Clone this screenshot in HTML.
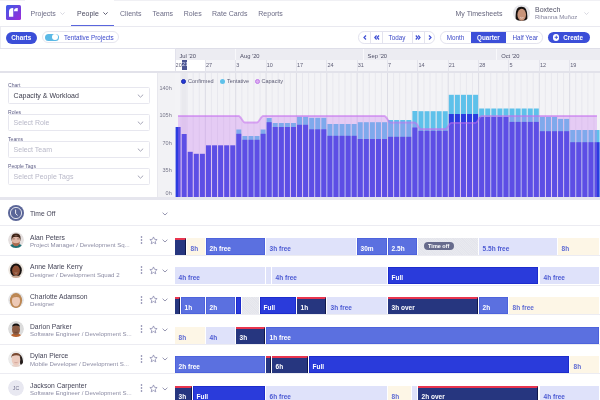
<!DOCTYPE html><html><head><meta charset="utf-8"><style>
*{margin:0;padding:0;box-sizing:border-box}
html,body{width:600px;height:400px;overflow:hidden;background:#fff;font-family:"Liberation Sans",sans-serif;position:relative}
.a{position:absolute;white-space:nowrap}
.nav{position:absolute;left:0;top:0;width:600px;height:27px;border-bottom:1px solid #e9e9f0;background:#fff}
.nv{position:absolute;top:9.5px;font-size:7px;color:#6e6e8a;white-space:nowrap}
.tb{position:absolute;left:0;top:27px;width:600px;height:21px;background:#fff}
.hdr{position:absolute;left:175px;top:48px;width:425px;height:25px;background:#f3f3f7;border-top:1px solid #dedee8;}
.mrow{position:absolute;left:175px;top:49px;width:425px;height:11px;background:#ececf2}
.wdiv{position:absolute;top:60px;width:1px;height:10.5px;background:#e4e4ec}
.mdiv{position:absolute;top:49px;width:1px;height:11px;background:#f8f8fb}
.wlab{position:absolute;top:61.8px;font-size:5.5px;color:#5e5e76}
.mlab{position:absolute;top:52.6px;font-size:5.8px;color:#4c4c64}
.hbot{position:absolute;left:0;top:70.5px;width:600px;height:3px;background:#e2e2ea}
.left{position:absolute;left:0;top:73px;width:157px;height:124px;background:#fff}
.axis{position:absolute;left:157px;top:73px;width:18px;height:124px;background:#f2f2f5;border-left:1px solid #e8e8ee}
.ylab{position:absolute;font-size:5.5px;color:#77778a;right:428.3px}
.flab{position:absolute;left:8px;font-size:5.1px;color:#5d5d86;z-index:2}
.dd{position:absolute;left:8.3px;width:141.5px;height:17px;border:1px solid #e7e7ef;border-radius:1.5px;background:#fff}
.dd span{position:absolute;left:4.3px;top:4px;font-size:7px;color:#b8b8c8}
.dd svg{position:absolute;left:127.6px;top:6px}
.cbot{position:absolute;left:0;top:197px;width:600px;height:3px;background:#e6e6ee}
.sep{position:absolute;left:0;width:600px;height:1px;background:#ececf2}
.av{position:absolute;left:8px;width:16px;height:16px}
.av svg{display:block}
.pname{position:absolute;left:30px;font-size:6.75px;color:#454558;white-space:nowrap}
.psub{position:absolute;left:30px;font-size:6.08px;color:#8c8ca4;white-space:nowrap}
.ic{position:absolute}
.ic svg{display:block}
.blk{position:absolute;height:17.2px;overflow:hidden}
.blk span{position:absolute;left:3.6px;top:7.1px;font-size:6.5px;font-weight:bold;white-space:nowrap}
.navy{background:#26367f;border-top:2px solid #e8354f;border-right:1px solid #10184a}
.navy span{color:#fff;top:5.1px}
.med{background:#5b70e0;box-shadow:inset 0 0 0 0.8px rgba(60,80,215,0.55)}
.med span{color:#fff}
.bright{background:#2a3bdb;box-shadow:inset 0 0 0 0.8px #1a29c9}
.bright span{color:#fff}
.lav{background:#dfe2fa}
.lav span{color:#4d5bd3}
.cream{background:#fdf6e6}
.cream span{color:#5f6cd4}
.off,.hatch{background:#e4e5ec;background-image:repeating-linear-gradient(45deg,rgba(255,255,255,0.18) 0 0.7px,transparent 0.7px 1.6px)}
.pill{position:absolute;left:5.5px;top:4.4px;height:8px;width:30.5px;border-radius:4px;background:#676b8c;color:#fff;font-style:normal;font-weight:bold;font-size:5.5px;line-height:8px;text-align:center}
.btn{position:absolute;border-radius:7px}
</style></head><body><div id="root" style="position:absolute;left:0;top:0;width:600px;height:400px;overflow:hidden;will-change:transform;background:#fff">
<div class="nav"></div>
<div class="a" style="left:0;top:0;width:25px;height:1px;background:#f0f0f4"></div>
<div class="a" style="left:114px;top:0;width:486px;height:1px;background:#f0f0f4"></div>
<svg class="a" style="left:6px;top:5px" width="15" height="15" viewBox="0 0 15 15"><defs><linearGradient id="lg" x1="0" y1="0" x2="1" y2="1"><stop offset="0" stop-color="#3a5ce8"/><stop offset="1" stop-color="#9e2ad8"/></linearGradient></defs><rect width="15" height="15" rx="1.5" fill="url(#lg)"/><path d="M3 11.75 L3 6.6 Q3 3 6.6 3 L7.25 3 L7.25 11.75 Z M8 6.25 Q8 3 11.2 3 L11.75 3 L11.75 6.25 Z" fill="#fff"/></svg>
<div class="nv" style="left:30.5px;color:#6c6c86">Projects</div>
<div class="nv" style="left:77px;color:#4a4a60">People</div>
<div class="nv" style="left:120px;color:#6c6c86">Clients</div>
<div class="nv" style="left:152.5px;color:#6c6c86">Teams</div>
<div class="nv" style="left:183.8px;color:#6c6c86">Roles</div>
<div class="nv" style="left:212px;color:#6c6c86">Rate Cards</div>
<div class="nv" style="left:258.3px;color:#6c6c86">Reports</div>
<svg class="a" style="left:60px;top:12px" width="5" height="3" viewBox="0 0 5 3"><path d="M0.4 0.4 L2.5 2.5 L4.6 0.4" fill="none" stroke="#c8c8d4" stroke-width="0.7"/></svg>
<svg class="a" style="left:103px;top:11.8px" width="5" height="3" viewBox="0 0 5 3"><path d="M0.4 0.4 L2.5 2.5 L4.6 0.4" fill="none" stroke="#55556c" stroke-width="0.95"/></svg>
<div class="a" style="left:71px;top:24.5px;width:43px;height:1.3px;background:#5a66dd"></div>
<div class="nv" style="left:455.5px;color:#66667e">My Timesheets</div>
<div class="a" style="left:512.8px;top:4.6px;width:16.8px;height:16.8px;border-radius:50%;background:#e6e6ea;overflow:hidden"><svg width="16.8" height="16.8" viewBox="0 0 16 16"><path d="M2.6 15 Q2 4 5 2.4 Q8 0.9 11 2.4 Q14 4 13.6 15Z" fill="#17110f"/><ellipse cx="8.3" cy="9.2" rx="4.1" ry="5.7" fill="#c9947a"/><path d="M6.6 12 Q8.3 13 10 12" stroke="#f0e0dc" stroke-width="0.7" fill="none"/><path d="M4.5 15.5 Q8.3 13.8 12 15.5 L12 16 L4.5 16Z" fill="#b88a74"/></svg></div>
<div class="a" style="left:535px;top:6.2px;font-size:7px;color:#55556a">Boxtech</div>
<div class="a" style="left:535px;top:14.0px;font-size:6.05px;color:#85859e">Rihanna Muñoz</div>
<svg class="a" style="left:583.5px;top:12px" width="5" height="3" viewBox="0 0 5 3"><path d="M0.4 0.4 L2.5 2.5 L4.6 0.4" fill="none" stroke="#c8c8d4" stroke-width="0.7"/></svg>
<div class="a" style="left:0;top:27px;width:1px;height:21px;background:#ececf2"></div>
<div class="a" style="left:5.5px;top:31.5px;width:31.5px;height:12px;border-radius:6px;background:#3b4ed8;color:#fff;font-size:6.3px;font-weight:bold;text-align:center;line-height:12px">Charts</div>
<div class="a" style="left:41.7px;top:31px;width:77.6px;height:12.3px;border-radius:6.2px;border:1px solid #e6e6ef;background:#fff"></div>
<div class="a" style="left:45px;top:33.7px;width:13.8px;height:7.4px;border-radius:3.7px;background:#5bb9e6"></div>
<div class="a" style="left:52.2px;top:34.4px;width:6px;height:6px;border-radius:3px;background:#fff"></div>
<div class="a" style="left:64px;top:34px;font-size:6.3px;color:#3a48cc">Tentative Projects</div>
<div class="a" style="left:358.3px;top:31.3px;width:76.5px;height:12.4px;border-radius:6.2px;border:1px solid #e3e3ee;background:#fff"></div>
<div class="a" style="left:370.4px;top:31.3px;width:1px;height:12.4px;background:#e3e3ee"></div>
<div class="a" style="left:381.7px;top:31.3px;width:1px;height:12.4px;background:#e3e3ee"></div>
<div class="a" style="left:411.5px;top:31.3px;width:1px;height:12.4px;background:#e3e3ee"></div>
<div class="a" style="left:423.5px;top:31.3px;width:1px;height:12.4px;background:#e3e3ee"></div>
<div class="a" style="left:388.5px;top:34.1px;font-size:6.3px;color:#3d4ac8">Today</div>
<svg class="a" style="left:362.5px;top:35px" width="4" height="5" viewBox="0 0 4 5"><path d="M3 0.5 L1 2.5 L3 4.5" fill="none" stroke="#3f4fd4" stroke-width="1.2"/></svg>
<svg class="a" style="left:373.5px;top:35px" width="6" height="5" viewBox="0 0 6 5"><path d="M2.6 0.5 L0.8 2.5 L2.6 4.5 M5 0.5 L3.2 2.5 L5 4.5" fill="none" stroke="#3f4fd4" stroke-width="1.2"/></svg>
<svg class="a" style="left:414.5px;top:35px" width="6" height="5" viewBox="0 0 6 5"><path d="M0.8 0.5 L2.6 2.5 L0.8 4.5 M3.2 0.5 L5 2.5 L3.2 4.5" fill="none" stroke="#3f4fd4" stroke-width="1.2"/></svg>
<svg class="a" style="left:427.5px;top:35px" width="4" height="5" viewBox="0 0 4 5"><path d="M1 0.5 L3 2.5 L1 4.5" fill="none" stroke="#3f4fd4" stroke-width="1.2"/></svg>
<div class="a" style="left:440px;top:31.3px;width:103.3px;height:12.4px;border-radius:6.2px;border:1px solid #e3e3ee;background:#fff;overflow:hidden"><div style="position:absolute;left:30.3px;top:0;width:34.5px;height:100%;background:#3b4ed8"></div></div>
<div class="a" style="left:446.7px;top:34.1px;font-size:6.3px;color:#3d4ac8">Month</div>
<div class="a" style="left:477px;top:34.1px;font-size:6.3px;color:#fff;font-weight:bold">Quarter</div>
<div class="a" style="left:512.5px;top:34.1px;font-size:6.3px;color:#3d4ac8">Half Year</div>
<div class="a" style="left:548.3px;top:31.7px;width:41.7px;height:11.6px;border-radius:5.8px;background:#3b4ed8"></div>
<div class="a" style="left:552.5px;top:34.2px;width:6.6px;height:6.6px;border-radius:50%;background:#fff"></div>
<svg class="a" style="left:552.5px;top:34.2px" width="6.6" height="6.6" viewBox="0 0 6.6 6.6"><path d="M3.3 1.6 V5 M1.6 3.3 H5" stroke="#3b4ed8" stroke-width="0.9"/></svg>
<div class="a" style="left:563.3px;top:34.1px;font-size:6.3px;color:#fff;font-weight:bold">Create</div>
<div class="a" style="left:0;top:48px;width:600px;height:1px;background:#e2e2ec"></div>
<div class="hdr"></div><div class="mrow"></div>
<div class="a" style="left:175px;top:60px;width:30.4px;height:10.5px;background:#fff"></div>
<div class="wlab" style="left:175.60px">20</div>
<div class="wdiv" style="left:204.86px"></div>
<div class="wlab" style="left:205.96px">27</div>
<div class="wdiv" style="left:235.21px"></div>
<div class="wlab" style="left:236.31px">3</div>
<div class="wdiv" style="left:265.57px"></div>
<div class="wlab" style="left:266.67px">10</div>
<div class="wdiv" style="left:295.93px"></div>
<div class="wlab" style="left:297.03px">17</div>
<div class="wdiv" style="left:326.29px"></div>
<div class="wlab" style="left:327.39px">24</div>
<div class="wdiv" style="left:356.64px"></div>
<div class="wlab" style="left:357.74px">31</div>
<div class="wdiv" style="left:387.00px"></div>
<div class="wlab" style="left:388.10px">7</div>
<div class="wdiv" style="left:417.36px"></div>
<div class="wlab" style="left:418.46px">14</div>
<div class="wdiv" style="left:447.71px"></div>
<div class="wlab" style="left:448.81px">21</div>
<div class="wdiv" style="left:478.07px"></div>
<div class="wlab" style="left:479.17px">28</div>
<div class="wdiv" style="left:508.43px"></div>
<div class="wlab" style="left:509.53px">5</div>
<div class="wdiv" style="left:538.79px"></div>
<div class="wlab" style="left:539.89px">12</div>
<div class="wdiv" style="left:569.14px"></div>
<div class="wlab" style="left:570.24px">19</div>
<div class="mlab" style="left:179.40px">Jul '20</div>
<div class="mdiv" style="left:235.21px"></div>
<div class="mlab" style="left:240.11px">Aug '20</div>
<div class="mdiv" style="left:362.71px"></div>
<div class="mlab" style="left:367.61px">Sep '20</div>
<div class="mdiv" style="left:496.29px"></div>
<div class="mlab" style="left:501.19px">Oct '20</div>
<div class="a" style="left:181.8px;top:60px;width:5.3px;height:10.4px;background:#4b5592;overflow:hidden"><span style="position:absolute;left:0.3px;top:1.4px;font-size:5.5px;color:#dfe2f4">21</span></div>
<div class="a" style="left:174.5px;top:48px;width:1px;height:23px;background:#e2e2ec"></div>
<div class="hbot"></div>
<div class="a" style="left:175px;top:73px;width:425px;height:124px;background:#f3f3f6"></div>
<svg class="chart" width="600" height="200" viewBox="0 0 600 200" style="position:absolute;left:0;top:0"><rect x="180.57" y="73" width="1" height="124" fill="#e8e8ee"/><rect x="186.64" y="73" width="1" height="124" fill="#e8e8ee"/><rect x="192.71" y="73" width="1" height="124" fill="#e8e8ee"/><rect x="198.79" y="73" width="1" height="124" fill="#e8e8ee"/><rect x="204.86" y="73" width="1" height="124" fill="#dcdce5"/><rect x="210.93" y="73" width="1" height="124" fill="#e8e8ee"/><rect x="217.00" y="73" width="1" height="124" fill="#e8e8ee"/><rect x="223.07" y="73" width="1" height="124" fill="#e8e8ee"/><rect x="229.14" y="73" width="1" height="124" fill="#e8e8ee"/><rect x="235.21" y="73" width="1" height="124" fill="#dcdce5"/><rect x="241.29" y="73" width="1" height="124" fill="#e8e8ee"/><rect x="247.36" y="73" width="1" height="124" fill="#e8e8ee"/><rect x="253.43" y="73" width="1" height="124" fill="#e8e8ee"/><rect x="259.50" y="73" width="1" height="124" fill="#e8e8ee"/><rect x="265.57" y="73" width="1" height="124" fill="#dcdce5"/><rect x="271.64" y="73" width="1" height="124" fill="#e8e8ee"/><rect x="277.71" y="73" width="1" height="124" fill="#e8e8ee"/><rect x="283.79" y="73" width="1" height="124" fill="#e8e8ee"/><rect x="289.86" y="73" width="1" height="124" fill="#e8e8ee"/><rect x="295.93" y="73" width="1" height="124" fill="#dcdce5"/><rect x="302.00" y="73" width="1" height="124" fill="#e8e8ee"/><rect x="308.07" y="73" width="1" height="124" fill="#e8e8ee"/><rect x="314.14" y="73" width="1" height="124" fill="#e8e8ee"/><rect x="320.21" y="73" width="1" height="124" fill="#e8e8ee"/><rect x="326.29" y="73" width="1" height="124" fill="#dcdce5"/><rect x="332.36" y="73" width="1" height="124" fill="#e8e8ee"/><rect x="338.43" y="73" width="1" height="124" fill="#e8e8ee"/><rect x="344.50" y="73" width="1" height="124" fill="#e8e8ee"/><rect x="350.57" y="73" width="1" height="124" fill="#e8e8ee"/><rect x="356.64" y="73" width="1" height="124" fill="#dcdce5"/><rect x="362.71" y="73" width="1" height="124" fill="#e8e8ee"/><rect x="368.79" y="73" width="1" height="124" fill="#e8e8ee"/><rect x="374.86" y="73" width="1" height="124" fill="#e8e8ee"/><rect x="380.93" y="73" width="1" height="124" fill="#e8e8ee"/><rect x="387.00" y="73" width="1" height="124" fill="#dcdce5"/><rect x="393.07" y="73" width="1" height="124" fill="#e8e8ee"/><rect x="399.14" y="73" width="1" height="124" fill="#e8e8ee"/><rect x="405.21" y="73" width="1" height="124" fill="#e8e8ee"/><rect x="411.29" y="73" width="1" height="124" fill="#e8e8ee"/><rect x="417.36" y="73" width="1" height="124" fill="#dcdce5"/><rect x="423.43" y="73" width="1" height="124" fill="#e8e8ee"/><rect x="429.50" y="73" width="1" height="124" fill="#e8e8ee"/><rect x="435.57" y="73" width="1" height="124" fill="#e8e8ee"/><rect x="441.64" y="73" width="1" height="124" fill="#e8e8ee"/><rect x="447.71" y="73" width="1" height="124" fill="#dcdce5"/><rect x="453.79" y="73" width="1" height="124" fill="#e8e8ee"/><rect x="459.86" y="73" width="1" height="124" fill="#e8e8ee"/><rect x="465.93" y="73" width="1" height="124" fill="#e8e8ee"/><rect x="472.00" y="73" width="1" height="124" fill="#e8e8ee"/><rect x="478.07" y="73" width="1" height="124" fill="#dcdce5"/><rect x="484.14" y="73" width="1" height="124" fill="#e8e8ee"/><rect x="490.21" y="73" width="1" height="124" fill="#e8e8ee"/><rect x="496.29" y="73" width="1" height="124" fill="#e8e8ee"/><rect x="502.36" y="73" width="1" height="124" fill="#e8e8ee"/><rect x="508.43" y="73" width="1" height="124" fill="#dcdce5"/><rect x="514.50" y="73" width="1" height="124" fill="#e8e8ee"/><rect x="520.57" y="73" width="1" height="124" fill="#e8e8ee"/><rect x="526.64" y="73" width="1" height="124" fill="#e8e8ee"/><rect x="532.71" y="73" width="1" height="124" fill="#e8e8ee"/><rect x="538.79" y="73" width="1" height="124" fill="#dcdce5"/><rect x="544.86" y="73" width="1" height="124" fill="#e8e8ee"/><rect x="550.93" y="73" width="1" height="124" fill="#e8e8ee"/><rect x="557.00" y="73" width="1" height="124" fill="#e8e8ee"/><rect x="563.07" y="73" width="1" height="124" fill="#e8e8ee"/><rect x="569.14" y="73" width="1" height="124" fill="#dcdce5"/><rect x="575.21" y="73" width="1" height="124" fill="#e8e8ee"/><rect x="581.29" y="73" width="1" height="124" fill="#e8e8ee"/><rect x="587.36" y="73" width="1" height="124" fill="#e8e8ee"/><rect x="593.43" y="73" width="1" height="124" fill="#e8e8ee"/><rect x="181.57" y="73" width="5.07" height="124" fill="#e9e9ee"/><rect x="175.60" y="127.00" width="5.0" height="70.00" fill="#2b3ce0"/><rect x="181.67" y="134.00" width="5.0" height="63.00" fill="#2b3ce0"/><rect x="187.74" y="151.80" width="5.0" height="45.20" fill="#2b3ce0"/><rect x="193.81" y="153.80" width="5.0" height="43.20" fill="#2b3ce0"/><rect x="199.89" y="153.80" width="5.0" height="43.20" fill="#2b3ce0"/><rect x="205.96" y="145.30" width="5.0" height="51.70" fill="#2b3ce0"/><rect x="212.03" y="145.30" width="5.0" height="51.70" fill="#2b3ce0"/><rect x="218.10" y="145.30" width="5.0" height="51.70" fill="#2b3ce0"/><rect x="224.17" y="145.30" width="5.0" height="51.70" fill="#2b3ce0"/><rect x="230.24" y="145.30" width="5.0" height="51.70" fill="#2b3ce0"/><rect x="236.31" y="129.50" width="5.0" height="67.50" fill="#5ec1ea"/><rect x="236.31" y="133.80" width="5.0" height="63.20" fill="#2b3ce0"/><rect x="242.39" y="136.00" width="5.0" height="61.00" fill="#5ec1ea"/><rect x="242.39" y="139.80" width="5.0" height="57.20" fill="#2b3ce0"/><rect x="248.46" y="136.00" width="5.0" height="61.00" fill="#5ec1ea"/><rect x="248.46" y="139.80" width="5.0" height="57.20" fill="#2b3ce0"/><rect x="254.53" y="136.00" width="5.0" height="61.00" fill="#5ec1ea"/><rect x="254.53" y="139.80" width="5.0" height="57.20" fill="#2b3ce0"/><rect x="260.60" y="129.50" width="5.0" height="67.50" fill="#5ec1ea"/><rect x="260.60" y="133.80" width="5.0" height="63.20" fill="#2b3ce0"/><rect x="266.67" y="118.00" width="5.0" height="79.00" fill="#5ec1ea"/><rect x="266.67" y="122.20" width="5.0" height="74.80" fill="#2b3ce0"/><rect x="272.74" y="123.00" width="5.0" height="74.00" fill="#5ec1ea"/><rect x="272.74" y="127.00" width="5.0" height="70.00" fill="#2b3ce0"/><rect x="278.81" y="123.00" width="5.0" height="74.00" fill="#5ec1ea"/><rect x="278.81" y="127.00" width="5.0" height="70.00" fill="#2b3ce0"/><rect x="284.89" y="123.00" width="5.0" height="74.00" fill="#5ec1ea"/><rect x="284.89" y="127.00" width="5.0" height="70.00" fill="#2b3ce0"/><rect x="290.96" y="123.00" width="5.0" height="74.00" fill="#5ec1ea"/><rect x="290.96" y="127.00" width="5.0" height="70.00" fill="#2b3ce0"/><rect x="297.03" y="116.80" width="5.0" height="80.20" fill="#5ec1ea"/><rect x="297.03" y="124.80" width="5.0" height="72.20" fill="#2b3ce0"/><rect x="303.10" y="116.80" width="5.0" height="80.20" fill="#5ec1ea"/><rect x="303.10" y="124.80" width="5.0" height="72.20" fill="#2b3ce0"/><rect x="309.17" y="117.80" width="5.0" height="79.20" fill="#5ec1ea"/><rect x="309.17" y="129.30" width="5.0" height="67.70" fill="#2b3ce0"/><rect x="315.24" y="117.80" width="5.0" height="79.20" fill="#5ec1ea"/><rect x="315.24" y="129.30" width="5.0" height="67.70" fill="#2b3ce0"/><rect x="321.31" y="117.80" width="5.0" height="79.20" fill="#5ec1ea"/><rect x="321.31" y="129.30" width="5.0" height="67.70" fill="#2b3ce0"/><rect x="327.39" y="124.00" width="5.0" height="73.00" fill="#5ec1ea"/><rect x="327.39" y="135.80" width="5.0" height="61.20" fill="#2b3ce0"/><rect x="333.46" y="124.00" width="5.0" height="73.00" fill="#5ec1ea"/><rect x="333.46" y="135.80" width="5.0" height="61.20" fill="#2b3ce0"/><rect x="339.53" y="124.00" width="5.0" height="73.00" fill="#5ec1ea"/><rect x="339.53" y="135.80" width="5.0" height="61.20" fill="#2b3ce0"/><rect x="345.60" y="124.00" width="5.0" height="73.00" fill="#5ec1ea"/><rect x="345.60" y="135.80" width="5.0" height="61.20" fill="#2b3ce0"/><rect x="351.67" y="124.00" width="5.0" height="73.00" fill="#5ec1ea"/><rect x="351.67" y="135.80" width="5.0" height="61.20" fill="#2b3ce0"/><rect x="357.74" y="122.20" width="5.0" height="74.80" fill="#5ec1ea"/><rect x="357.74" y="139.00" width="5.0" height="58.00" fill="#2b3ce0"/><rect x="363.81" y="122.20" width="5.0" height="74.80" fill="#5ec1ea"/><rect x="363.81" y="139.00" width="5.0" height="58.00" fill="#2b3ce0"/><rect x="369.89" y="122.20" width="5.0" height="74.80" fill="#5ec1ea"/><rect x="369.89" y="139.00" width="5.0" height="58.00" fill="#2b3ce0"/><rect x="375.96" y="122.20" width="5.0" height="74.80" fill="#5ec1ea"/><rect x="375.96" y="139.00" width="5.0" height="58.00" fill="#2b3ce0"/><rect x="382.03" y="122.20" width="5.0" height="74.80" fill="#5ec1ea"/><rect x="382.03" y="139.00" width="5.0" height="58.00" fill="#2b3ce0"/><rect x="388.10" y="120.00" width="5.0" height="77.00" fill="#5ec1ea"/><rect x="388.10" y="136.80" width="5.0" height="60.20" fill="#2b3ce0"/><rect x="394.17" y="120.00" width="5.0" height="77.00" fill="#5ec1ea"/><rect x="394.17" y="136.80" width="5.0" height="60.20" fill="#2b3ce0"/><rect x="400.24" y="120.00" width="5.0" height="77.00" fill="#5ec1ea"/><rect x="400.24" y="136.80" width="5.0" height="60.20" fill="#2b3ce0"/><rect x="406.31" y="120.00" width="5.0" height="77.00" fill="#5ec1ea"/><rect x="406.31" y="136.80" width="5.0" height="60.20" fill="#2b3ce0"/><rect x="412.39" y="111.00" width="5.0" height="86.00" fill="#5ec1ea"/><rect x="412.39" y="127.50" width="5.0" height="69.50" fill="#2b3ce0"/><rect x="418.46" y="111.20" width="5.0" height="85.80" fill="#5ec1ea"/><rect x="418.46" y="130.80" width="5.0" height="66.20" fill="#2b3ce0"/><rect x="424.53" y="111.20" width="5.0" height="85.80" fill="#5ec1ea"/><rect x="424.53" y="130.80" width="5.0" height="66.20" fill="#2b3ce0"/><rect x="430.60" y="111.20" width="5.0" height="85.80" fill="#5ec1ea"/><rect x="430.60" y="130.80" width="5.0" height="66.20" fill="#2b3ce0"/><rect x="436.67" y="111.20" width="5.0" height="85.80" fill="#5ec1ea"/><rect x="436.67" y="130.80" width="5.0" height="66.20" fill="#2b3ce0"/><rect x="442.74" y="111.20" width="5.0" height="85.80" fill="#5ec1ea"/><rect x="442.74" y="130.80" width="5.0" height="66.20" fill="#2b3ce0"/><rect x="448.81" y="94.80" width="5.0" height="102.20" fill="#5ec1ea"/><rect x="448.81" y="114.00" width="5.0" height="83.00" fill="#2b3ce0"/><rect x="454.89" y="94.80" width="5.0" height="102.20" fill="#5ec1ea"/><rect x="454.89" y="114.00" width="5.0" height="83.00" fill="#2b3ce0"/><rect x="460.96" y="94.80" width="5.0" height="102.20" fill="#5ec1ea"/><rect x="460.96" y="114.00" width="5.0" height="83.00" fill="#2b3ce0"/><rect x="467.03" y="94.80" width="5.0" height="102.20" fill="#5ec1ea"/><rect x="467.03" y="114.00" width="5.0" height="83.00" fill="#2b3ce0"/><rect x="473.10" y="94.80" width="5.0" height="102.20" fill="#5ec1ea"/><rect x="473.10" y="114.00" width="5.0" height="83.00" fill="#2b3ce0"/><rect x="479.17" y="108.50" width="5.0" height="88.50" fill="#5ec1ea"/><rect x="479.17" y="117.00" width="5.0" height="80.00" fill="#2b3ce0"/><rect x="485.24" y="108.50" width="5.0" height="88.50" fill="#5ec1ea"/><rect x="485.24" y="117.00" width="5.0" height="80.00" fill="#2b3ce0"/><rect x="491.31" y="108.50" width="5.0" height="88.50" fill="#5ec1ea"/><rect x="491.31" y="117.00" width="5.0" height="80.00" fill="#2b3ce0"/><rect x="497.39" y="108.50" width="5.0" height="88.50" fill="#5ec1ea"/><rect x="497.39" y="117.00" width="5.0" height="80.00" fill="#2b3ce0"/><rect x="503.46" y="108.50" width="5.0" height="88.50" fill="#5ec1ea"/><rect x="503.46" y="117.00" width="5.0" height="80.00" fill="#2b3ce0"/><rect x="509.53" y="108.50" width="5.0" height="88.50" fill="#5ec1ea"/><rect x="509.53" y="121.90" width="5.0" height="75.10" fill="#2b3ce0"/><rect x="515.60" y="108.50" width="5.0" height="88.50" fill="#5ec1ea"/><rect x="515.60" y="121.90" width="5.0" height="75.10" fill="#2b3ce0"/><rect x="521.67" y="108.50" width="5.0" height="88.50" fill="#5ec1ea"/><rect x="521.67" y="121.90" width="5.0" height="75.10" fill="#2b3ce0"/><rect x="527.74" y="108.50" width="5.0" height="88.50" fill="#5ec1ea"/><rect x="527.74" y="121.90" width="5.0" height="75.10" fill="#2b3ce0"/><rect x="533.81" y="108.50" width="5.0" height="88.50" fill="#5ec1ea"/><rect x="533.81" y="121.90" width="5.0" height="75.10" fill="#2b3ce0"/><rect x="539.89" y="116.90" width="5.0" height="80.10" fill="#5ec1ea"/><rect x="539.89" y="131.20" width="5.0" height="65.80" fill="#2b3ce0"/><rect x="545.96" y="116.90" width="5.0" height="80.10" fill="#5ec1ea"/><rect x="545.96" y="131.20" width="5.0" height="65.80" fill="#2b3ce0"/><rect x="552.03" y="116.90" width="5.0" height="80.10" fill="#5ec1ea"/><rect x="552.03" y="131.20" width="5.0" height="65.80" fill="#2b3ce0"/><rect x="558.10" y="118.90" width="5.0" height="78.10" fill="#5ec1ea"/><rect x="558.10" y="131.20" width="5.0" height="65.80" fill="#2b3ce0"/><rect x="564.17" y="118.90" width="5.0" height="78.10" fill="#5ec1ea"/><rect x="564.17" y="131.20" width="5.0" height="65.80" fill="#2b3ce0"/><rect x="570.24" y="130.00" width="5.0" height="67.00" fill="#5ec1ea"/><rect x="570.24" y="142.20" width="5.0" height="54.80" fill="#2b3ce0"/><rect x="576.31" y="130.00" width="5.0" height="67.00" fill="#5ec1ea"/><rect x="576.31" y="142.20" width="5.0" height="54.80" fill="#2b3ce0"/><rect x="582.39" y="130.00" width="5.0" height="67.00" fill="#5ec1ea"/><rect x="582.39" y="142.20" width="5.0" height="54.80" fill="#2b3ce0"/><rect x="588.46" y="130.00" width="5.0" height="67.00" fill="#5ec1ea"/><rect x="588.46" y="142.20" width="5.0" height="54.80" fill="#2b3ce0"/><rect x="594.53" y="130.00" width="5.0" height="67.00" fill="#5ec1ea"/><rect x="594.53" y="142.20" width="5.0" height="54.80" fill="#2b3ce0"/><path d="M178.04,197.00 L178.04,116.00 L184.11,116.00 L190.18,116.00 L196.25,116.00 L202.32,116.00 L208.39,116.00 L214.46,116.00 L220.54,116.00 L226.61,116.00 L232.68,116.00 L238.75,116.00 C240.77,116.00 242.80,122.50 244.82,122.50 L250.89,122.50 L256.96,122.50 C258.99,122.50 261.01,116.00 263.04,116.00 L269.11,116.00 L275.18,116.00 L281.25,116.00 L287.32,116.00 L293.39,116.00 L299.46,116.00 L305.54,116.00 L311.61,116.00 L317.68,116.00 L323.75,116.00 L329.82,116.00 L335.89,116.00 L341.96,116.00 L348.04,116.00 L354.11,116.00 L360.18,116.00 L366.25,116.00 L372.32,116.00 L378.39,116.00 L384.46,116.00 C386.49,116.00 388.51,122.50 390.54,122.50 L396.61,122.50 L402.68,122.50 L408.75,122.50 L414.82,122.50 C416.85,122.50 418.87,129.00 420.89,129.00 L426.96,129.00 L433.04,129.00 L439.11,129.00 L445.18,129.00 C447.20,129.00 449.23,122.80 451.25,122.80 L457.32,122.80 L463.39,122.80 L469.46,122.80 L475.54,122.80 C477.56,122.80 479.58,116.00 481.61,116.00 L487.68,116.00 L493.75,116.00 L499.82,116.00 L505.89,116.00 L511.96,116.00 L518.04,116.00 L524.11,116.00 L530.18,116.00 L536.25,116.00 L542.32,116.00 L548.39,116.00 L554.46,116.00 L560.54,116.00 L566.61,116.00 L572.68,116.00 L578.75,116.00 L584.82,116.00 L590.89,116.00 L596.96,116.00 L596.96,197.00 Z" fill="rgba(199,118,238,0.32)"/><path d="M178.04,116.00 L184.11,116.00 L190.18,116.00 L196.25,116.00 L202.32,116.00 L208.39,116.00 L214.46,116.00 L220.54,116.00 L226.61,116.00 L232.68,116.00 L238.75,116.00 C240.77,116.00 242.80,122.50 244.82,122.50 L250.89,122.50 L256.96,122.50 C258.99,122.50 261.01,116.00 263.04,116.00 L269.11,116.00 L275.18,116.00 L281.25,116.00 L287.32,116.00 L293.39,116.00 L299.46,116.00 L305.54,116.00 L311.61,116.00 L317.68,116.00 L323.75,116.00 L329.82,116.00 L335.89,116.00 L341.96,116.00 L348.04,116.00 L354.11,116.00 L360.18,116.00 L366.25,116.00 L372.32,116.00 L378.39,116.00 L384.46,116.00 C386.49,116.00 388.51,122.50 390.54,122.50 L396.61,122.50 L402.68,122.50 L408.75,122.50 L414.82,122.50 C416.85,122.50 418.87,129.00 420.89,129.00 L426.96,129.00 L433.04,129.00 L439.11,129.00 L445.18,129.00 C447.20,129.00 449.23,122.80 451.25,122.80 L457.32,122.80 L463.39,122.80 L469.46,122.80 L475.54,122.80 C477.56,122.80 479.58,116.00 481.61,116.00 L487.68,116.00 L493.75,116.00 L499.82,116.00 L505.89,116.00 L511.96,116.00 L518.04,116.00 L524.11,116.00 L530.18,116.00 L536.25,116.00 L542.32,116.00 L548.39,116.00 L554.46,116.00 L560.54,116.00 L566.61,116.00 L572.68,116.00 L578.75,116.00 L584.82,116.00 L590.89,116.00 L596.96,116.00" fill="none" stroke="rgba(196,110,238,0.55)" stroke-width="1.8"/></svg>
<div class="left"></div><div class="axis"></div>
<div class="a ylab" style="top:84.8px">140h</div>
<div class="a ylab" style="top:112.3px">105h</div>
<div class="a ylab" style="top:139.6px">70h</div>
<div class="a ylab" style="top:167.0px">35h</div>
<div class="a ylab" style="top:189.9px">0h</div>
<div class="a" style="left:180.5px;top:78.5px;width:5px;height:5px;border-radius:50%;background:#2438d8;border:0.6px solid #1a2aa8"></div>
<div class="a" style="left:188px;top:78px;font-size:5.55px;color:#5e5e76">Confirmed</div>
<div class="a" style="left:219.5px;top:78.5px;width:5px;height:5px;border-radius:50%;background:#5ec1ea"></div>
<div class="a" style="left:227px;top:78px;font-size:5.55px;color:#5e5e76">Tentative</div>
<div class="a" style="left:254.5px;top:78.5px;width:5px;height:5px;border-radius:50%;background:#dcacf2;border:0.8px solid #c07ae8"></div>
<div class="a" style="left:261.4px;top:78px;font-size:5.55px;color:#5e5e76">Capacity</div>
<div class="flab" style="top:81.8px">Chart</div>
<div class="dd" style="top:87.0px"><span style="color:#3c3c4c">Capacity &amp; Workload</span><svg width="7" height="4" viewBox="0 0 7 4"><path d="M0.8 0.6 L3.5 3.2 L6.2 0.6" fill="none" stroke="#a4a4b6" stroke-width="1"/></svg></div>
<div class="flab" style="top:108.8px">Roles</div>
<div class="dd" style="top:114.0px"><span style="color:#b8b8c8">Select Role</span><svg width="7" height="4" viewBox="0 0 7 4"><path d="M0.8 0.6 L3.5 3.2 L6.2 0.6" fill="none" stroke="#a4a4b6" stroke-width="1"/></svg></div>
<div class="flab" style="top:135.8px">Teams</div>
<div class="dd" style="top:141.0px"><span style="color:#b8b8c8">Select Team</span><svg width="7" height="4" viewBox="0 0 7 4"><path d="M0.8 0.6 L3.5 3.2 L6.2 0.6" fill="none" stroke="#a4a4b6" stroke-width="1"/></svg></div>
<div class="flab" style="top:162.8px">People Tags</div>
<div class="dd" style="top:168.0px"><span style="color:#b8b8c8">Select People Tags</span><svg width="7" height="4" viewBox="0 0 7 4"><path d="M0.8 0.6 L3.5 3.2 L6.2 0.6" fill="none" stroke="#a4a4b6" stroke-width="1"/></svg></div>
<div class="cbot"></div>
<div class="a" style="left:8px;top:205px;width:16px;height:16px"><svg width="16" height="16" viewBox="0 0 16 16"><circle cx="8" cy="8" r="8" fill="#5b6698"/><circle cx="8" cy="8" r="5.6" fill="none" stroke="#fff" stroke-width="0.8"/><path d="M7.6 4.6 V8.6 L9.6 10.4" fill="none" stroke="#fff" stroke-width="0.9"/></svg></div>
<div class="a" style="left:30px;top:209.6px;font-size:6.7px;color:#454558">Time Off</div>
<div class="ic" style="left:162px;top:211.5px"><svg width="6" height="4" viewBox="0 0 6 4"><path d="M0.6 0.7 L3 3 L5.4 0.7" fill="none" stroke="#8a8aa8" stroke-width="0.9"/></svg></div>
<div class="sep" style="top:225.2px"></div>
<div class="av" style="top:232.2px"><svg width="16" height="16" viewBox="0 0 16 16"><defs><clipPath id="calan"><circle cx="8" cy="8" r="8"/></clipPath></defs><g clip-path="url(#calan)"><circle cx="8" cy="8" r="8" fill="#e5e0e0"/><path d="M1.5 15 Q3 11.5 5.5 12 L10.5 12 Q13 11.5 14.5 15 L14.5 16 L1.5 16Z" fill="#1e6f74"/><path d="M3.4 6.5 Q3.2 1.6 8 1.6 Q12.8 1.6 12.6 6.5 L12.2 9 L3.8 9Z" fill="#3e2418"/><ellipse cx="8" cy="8.6" rx="4.1" ry="5.3" fill="#dfb6a6"/><path d="M3.9 8.6 Q4 14.2 8 14.3 Q12 14.2 12.1 8.6 L11.6 10.2 Q8 12.2 4.4 10.2Z" fill="#a86a4f"/><path d="M4.6 6.9 H6.8 M9.2 6.9 H11.4" stroke="#6d4a3c" stroke-width="0.6"/><path d="M4.2 5.8 Q8 3.6 11.8 5.8 L12 4.6 Q8 2.4 4 4.6Z" fill="#3e2418"/></g></svg></div>
<div class="pname" style="top:233.5px">Alan Peters</div>
<div class="psub" style="top:241.0px">Project Manager / Development Sq...</div>
<div class="ic" style="left:139.6px;top:236.3px"><svg width="3" height="8" viewBox="0 0 3 8"><circle cx="1.5" cy="1" r="0.8" fill="#6c6c98"/><circle cx="1.5" cy="4" r="0.8" fill="#6c6c98"/><circle cx="1.5" cy="7" r="0.8" fill="#6c6c98"/></svg></div>
<div class="ic" style="left:148.7px;top:235.7px"><svg width="9" height="9" viewBox="0 0 24 24"><path d="M12 2.5l2.9 6.3 6.8.7-5.1 4.6 1.5 6.7L12 17.3l-6.1 3.5 1.5-6.7-5.1-4.6 6.8-.7z" fill="none" stroke="#8080a8" stroke-width="1.9" stroke-linejoin="round"/></svg></div>
<div class="ic" style="left:162px;top:238.7px"><svg width="6" height="4" viewBox="0 0 6 4"><path d="M0.6 0.7 L3 3 L5.4 0.7" fill="none" stroke="#8a8aa8" stroke-width="0.9"/></svg></div>
<div class="sep" style="top:255.0px"></div>
<div class="av" style="top:262.0px"><svg width="16" height="16" viewBox="0 0 16 16"><defs><clipPath id="canne"><circle cx="8" cy="8" r="8"/></clipPath></defs><g clip-path="url(#canne)"><circle cx="8" cy="8" r="8" fill="#eee8e2"/><ellipse cx="8" cy="8.2" rx="5.8" ry="6.8" fill="#17110f"/><ellipse cx="8" cy="8.6" rx="3.9" ry="5" fill="#8d4f34"/><path d="M6.2 10.6 Q8 12.2 9.8 10.6 Q8 11.2 6.2 10.6Z" fill="#f4ece8"/><path d="M3 14.5 Q8 12.5 13 14.5 L13 16 L3 16Z" fill="#c9a994"/></g></svg></div>
<div class="pname" style="top:263.3px">Anne Marie Kerry</div>
<div class="psub" style="top:270.8px">Designer / Development Squad 2</div>
<div class="ic" style="left:139.6px;top:266.1px"><svg width="3" height="8" viewBox="0 0 3 8"><circle cx="1.5" cy="1" r="0.8" fill="#6c6c98"/><circle cx="1.5" cy="4" r="0.8" fill="#6c6c98"/><circle cx="1.5" cy="7" r="0.8" fill="#6c6c98"/></svg></div>
<div class="ic" style="left:148.7px;top:265.5px"><svg width="9" height="9" viewBox="0 0 24 24"><path d="M12 2.5l2.9 6.3 6.8.7-5.1 4.6 1.5 6.7L12 17.3l-6.1 3.5 1.5-6.7-5.1-4.6 6.8-.7z" fill="none" stroke="#8080a8" stroke-width="1.9" stroke-linejoin="round"/></svg></div>
<div class="ic" style="left:162px;top:268.5px"><svg width="6" height="4" viewBox="0 0 6 4"><path d="M0.6 0.7 L3 3 L5.4 0.7" fill="none" stroke="#8a8aa8" stroke-width="0.9"/></svg></div>
<div class="sep" style="top:284.6px"></div>
<div class="av" style="top:291.6px"><svg width="16" height="16" viewBox="0 0 16 16"><defs><clipPath id="ccharlotte"><circle cx="8" cy="8" r="8"/></clipPath></defs><g clip-path="url(#ccharlotte)"><circle cx="8" cy="8" r="8" fill="#e4e4e6"/><ellipse cx="8" cy="8.6" rx="6.1" ry="7.6" fill="#bb8652"/><ellipse cx="8" cy="9" rx="4.1" ry="5.5" fill="#edc9b6"/><path d="M4 6 Q6 2.8 8.5 3.2 Q11 3.2 12 6 Q9 4.2 4 6Z" fill="#bb8652"/></g></svg></div>
<div class="pname" style="top:292.9px">Charlotte Adamson</div>
<div class="psub" style="top:300.4px">Designer</div>
<div class="ic" style="left:139.6px;top:295.7px"><svg width="3" height="8" viewBox="0 0 3 8"><circle cx="1.5" cy="1" r="0.8" fill="#6c6c98"/><circle cx="1.5" cy="4" r="0.8" fill="#6c6c98"/><circle cx="1.5" cy="7" r="0.8" fill="#6c6c98"/></svg></div>
<div class="ic" style="left:148.7px;top:295.1px"><svg width="9" height="9" viewBox="0 0 24 24"><path d="M12 2.5l2.9 6.3 6.8.7-5.1 4.6 1.5 6.7L12 17.3l-6.1 3.5 1.5-6.7-5.1-4.6 6.8-.7z" fill="none" stroke="#8080a8" stroke-width="1.9" stroke-linejoin="round"/></svg></div>
<div class="ic" style="left:162px;top:298.1px"><svg width="6" height="4" viewBox="0 0 6 4"><path d="M0.6 0.7 L3 3 L5.4 0.7" fill="none" stroke="#8a8aa8" stroke-width="0.9"/></svg></div>
<div class="sep" style="top:314.2px"></div>
<div class="av" style="top:321.2px"><svg width="16" height="16" viewBox="0 0 16 16"><defs><clipPath id="cdarion"><circle cx="8" cy="8" r="8"/></clipPath></defs><g clip-path="url(#cdarion)"><circle cx="8" cy="8" r="8" fill="#dcdcdc"/><path d="M2 16 Q3 13 6 12.8 L10 12.8 Q13 13 14 16Z" fill="#b9622d"/><ellipse cx="8" cy="8.6" rx="4" ry="5.4" fill="#8a5a42"/><path d="M3.9 7 Q3.8 2.4 8 2.4 Q12.2 2.4 12.1 7 L11.4 5.2 Q8 4 4.6 5.2Z" fill="#141010"/><path d="M6.3 11.1 Q8 11.9 9.7 11.1" stroke="#5a3426" stroke-width="0.5" fill="none"/></g></svg></div>
<div class="pname" style="top:322.5px">Darion Parker</div>
<div class="psub" style="top:330.0px">Software Engineer / Development S...</div>
<div class="ic" style="left:139.6px;top:325.3px"><svg width="3" height="8" viewBox="0 0 3 8"><circle cx="1.5" cy="1" r="0.8" fill="#6c6c98"/><circle cx="1.5" cy="4" r="0.8" fill="#6c6c98"/><circle cx="1.5" cy="7" r="0.8" fill="#6c6c98"/></svg></div>
<div class="ic" style="left:148.7px;top:324.7px"><svg width="9" height="9" viewBox="0 0 24 24"><path d="M12 2.5l2.9 6.3 6.8.7-5.1 4.6 1.5 6.7L12 17.3l-6.1 3.5 1.5-6.7-5.1-4.6 6.8-.7z" fill="none" stroke="#8080a8" stroke-width="1.9" stroke-linejoin="round"/></svg></div>
<div class="ic" style="left:162px;top:327.7px"><svg width="6" height="4" viewBox="0 0 6 4"><path d="M0.6 0.7 L3 3 L5.4 0.7" fill="none" stroke="#8a8aa8" stroke-width="0.9"/></svg></div>
<div class="sep" style="top:343.8px"></div>
<div class="av" style="top:350.8px"><svg width="16" height="16" viewBox="0 0 16 16"><defs><clipPath id="cdylan"><circle cx="8" cy="8" r="8"/></clipPath></defs><g clip-path="url(#cdylan)"><circle cx="8" cy="8" r="8" fill="#ebebeb"/><path d="M11.4 3 Q15.5 6 15 13.5 L12.2 13.5Z" fill="#251d1b"/><path d="M3 16 Q4 13 8 13 Q12 13 13 16Z" fill="#e8d2c8"/><ellipse cx="8" cy="8.7" rx="4.3" ry="5.6" fill="#eccbbe"/><path d="M3.3 7.2 Q3 1.8 8.2 1.9 Q13 2 12.8 7 L12 5 Q8 3.6 4.2 5.2Z" fill="#7a4a32"/><path d="M6.4 11.4 Q8 12 9.6 11.4" stroke="#c48f86" stroke-width="0.6" fill="none"/></g></svg></div>
<div class="pname" style="top:352.1px">Dylan Pierce</div>
<div class="psub" style="top:359.6px">Mobile Developer / Development S...</div>
<div class="ic" style="left:139.6px;top:354.9px"><svg width="3" height="8" viewBox="0 0 3 8"><circle cx="1.5" cy="1" r="0.8" fill="#6c6c98"/><circle cx="1.5" cy="4" r="0.8" fill="#6c6c98"/><circle cx="1.5" cy="7" r="0.8" fill="#6c6c98"/></svg></div>
<div class="ic" style="left:148.7px;top:354.3px"><svg width="9" height="9" viewBox="0 0 24 24"><path d="M12 2.5l2.9 6.3 6.8.7-5.1 4.6 1.5 6.7L12 17.3l-6.1 3.5 1.5-6.7-5.1-4.6 6.8-.7z" fill="none" stroke="#8080a8" stroke-width="1.9" stroke-linejoin="round"/></svg></div>
<div class="ic" style="left:162px;top:357.3px"><svg width="6" height="4" viewBox="0 0 6 4"><path d="M0.6 0.7 L3 3 L5.4 0.7" fill="none" stroke="#8a8aa8" stroke-width="0.9"/></svg></div>
<div class="sep" style="top:373.3px"></div>
<div class="av" style="top:380.3px"><svg width="16" height="16" viewBox="0 0 16 16"><defs><clipPath id="cjc"><circle cx="8" cy="8" r="8"/></clipPath></defs><g clip-path="url(#cjc)"><circle cx="8" cy="8" r="8" fill="#e8e8f1"/><text x="8" y="9.9" text-anchor="middle" font-size="5.2" font-family="Liberation Sans" fill="#6e6e8c">JC</text></g></svg></div>
<div class="pname" style="top:381.6px">Jackson Carpenter</div>
<div class="psub" style="top:389.1px">Software Engineer / Development S...</div>
<div class="ic" style="left:139.6px;top:384.4px"><svg width="3" height="8" viewBox="0 0 3 8"><circle cx="1.5" cy="1" r="0.8" fill="#6c6c98"/><circle cx="1.5" cy="4" r="0.8" fill="#6c6c98"/><circle cx="1.5" cy="7" r="0.8" fill="#6c6c98"/></svg></div>
<div class="ic" style="left:148.7px;top:383.8px"><svg width="9" height="9" viewBox="0 0 24 24"><path d="M12 2.5l2.9 6.3 6.8.7-5.1 4.6 1.5 6.7L12 17.3l-6.1 3.5 1.5-6.7-5.1-4.6 6.8-.7z" fill="none" stroke="#8080a8" stroke-width="1.9" stroke-linejoin="round"/></svg></div>
<div class="ic" style="left:162px;top:386.8px"><svg width="6" height="4" viewBox="0 0 6 4"><path d="M0.6 0.7 L3 3 L5.4 0.7" fill="none" stroke="#8a8aa8" stroke-width="0.9"/></svg></div>
<div class="blk navy" style="left:175.00px;top:237.5px;width:11.00px"></div>
<div class="blk cream" style="left:187.00px;top:237.5px;width:18.00px"><span>8h</span></div>
<div class="blk med" style="left:206.00px;top:237.5px;width:59.00px"><span>2h free</span></div>
<div class="blk lav" style="left:266.00px;top:237.5px;width:90.00px"><span>3h free</span></div>
<div class="blk med" style="left:357.00px;top:237.5px;width:30.00px"><span>30m</span></div>
<div class="blk med" style="left:388.00px;top:237.5px;width:29.00px"><span>2.5h</span></div>
<div class="blk off" style="left:418.00px;top:237.5px;width:60.00px"><i class="pill">Time off</i></div>
<div class="blk lav" style="left:479.00px;top:237.5px;width:78.00px"><span>5.5h free</span></div>
<div class="blk cream" style="left:558.00px;top:237.5px;width:41.00px"><span>8h</span></div>
<div class="blk lav" style="left:175.00px;top:267.3px;width:90.00px"><span>4h free</span></div>
<div class="blk lav" style="left:266.00px;top:267.3px;width:5.00px"></div>
<div class="blk lav" style="left:272.00px;top:267.3px;width:115.00px"><span>4h free</span></div>
<div class="blk bright" style="left:388.00px;top:267.3px;width:150.00px"><span>Full</span></div>
<div class="blk lav" style="left:540.00px;top:267.3px;width:59.00px"><span>4h free</span></div>
<div class="blk navy" style="left:175.00px;top:296.9px;width:5.00px"></div>
<div class="blk med" style="left:181.00px;top:296.9px;width:24.00px"><span>1h</span></div>
<div class="blk med" style="left:206.00px;top:296.9px;width:29.00px"><span>2h</span></div>
<div class="blk bright" style="left:236.00px;top:296.9px;width:5.00px"></div>
<div class="blk hatch" style="left:242.00px;top:296.9px;width:17.00px"></div>
<div class="blk bright" style="left:260.00px;top:296.9px;width:36.00px"><span>Full</span></div>
<div class="blk navy" style="left:297.00px;top:296.9px;width:29.00px"><span>1h</span></div>
<div class="blk lav" style="left:327.00px;top:296.9px;width:60.00px"><span>3h free</span></div>
<div class="blk navy" style="left:388.00px;top:296.9px;width:90.00px"><span>3h over</span></div>
<div class="blk med" style="left:479.00px;top:296.9px;width:29.00px"><span>2h</span></div>
<div class="blk cream" style="left:509.00px;top:296.9px;width:90.00px"><span>8h free</span></div>
<div class="blk cream" style="left:175.00px;top:326.5px;width:30.00px"><span>8h</span></div>
<div class="blk lav" style="left:206.00px;top:326.5px;width:29.00px"><span>4h</span></div>
<div class="blk navy" style="left:236.00px;top:326.5px;width:29.00px"><span>3h</span></div>
<div class="blk med" style="left:266.00px;top:326.5px;width:333.00px"><span>1h free</span></div>
<div class="blk med" style="left:175.00px;top:356.1px;width:90.00px"><span>2h free</span></div>
<div class="blk navy" style="left:266.00px;top:356.1px;width:5.00px"></div>
<div class="blk navy" style="left:272.00px;top:356.1px;width:36.00px"><span>6h</span></div>
<div class="blk bright" style="left:309.00px;top:356.1px;width:260.00px"><span>Full</span></div>
<div class="blk cream" style="left:570.00px;top:356.1px;width:29.00px"><span>8h</span></div>
<div class="blk navy" style="left:175.00px;top:385.6px;width:17.00px"><span>3h</span></div>
<div class="blk bright" style="left:193.00px;top:385.6px;width:72.00px"><span>Full</span></div>
<div class="blk lav" style="left:266.00px;top:385.6px;width:121.00px"><span>6h free</span></div>
<div class="blk cream" style="left:388.00px;top:385.6px;width:23.00px"><span>8h</span></div>
<div class="blk lav" style="left:412.00px;top:385.6px;width:5.00px"></div>
<div class="blk navy" style="left:418.00px;top:385.6px;width:120.00px"><span>2h over</span></div>
<div class="blk lav" style="left:540.00px;top:385.6px;width:59.00px"><span>4h free</span></div>
</div></body></html>
